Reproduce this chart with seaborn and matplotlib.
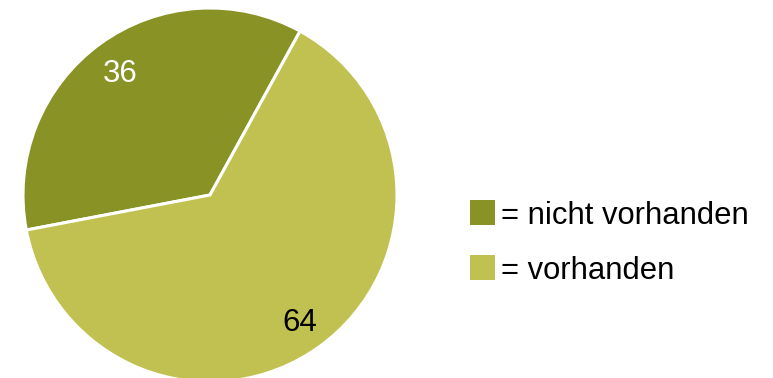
import matplotlib
matplotlib.use("Agg")
import matplotlib.pyplot as plt
from matplotlib.patches import Rectangle
import seaborn as sns

# Data
categories = ["nicht vorhanden", "vorhanden"]
values = [36, 64]
colors = ["#889225", "#C0C150"]
label_colors = ["white", "black"]

sns.set_theme(style="white")
plt.rcParams["font.family"] = ["Liberation Sans", "DejaVu Sans"]

W, H = 773, 378
fig = plt.figure(figsize=(W / 100, H / 100), dpi=100)
fig.patch.set_facecolor("white")

# pie axes: centre (210, 195) px, radius 187 px
cx, cy, r = 210, 195, 187
ax = fig.add_axes([(cx - r) / W, (H - cy - r) / H, 2 * r / W, 2 * r / H])
wedges, texts = ax.pie(
    values,
    colors=colors,
    startangle=61.2,
    counterclock=True,
    labels=[str(v) for v in values],
    labeldistance=0.82,
    wedgeprops=dict(edgecolor="white", linewidth=2.2),
    textprops=dict(fontsize=22.5),
)
for t, c in zip(texts, label_colors):
    t.set_color(c)
    t.set_ha("center")
    t.set_va("center_baseline")
ax.set_xlim(-1, 1)
ax.set_ylim(-1, 1)
ax.set_aspect("equal")
ax.axis("off")

# legend
box = 25
x0 = 470
rows_y = [212.5, 267.5]
for cat, col, yc in zip(categories, colors, rows_y):
    fig.add_artist(Rectangle((x0 / W, (H - yc - box / 2) / H), box / W, box / H,
                             transform=fig.transFigure, facecolor=col, edgecolor="none"))
    fig.text((x0 + box + 6) / W, (H - yc) / H, "= " + cat, fontsize=22.3,
             va="center_baseline", ha="left", color="black")

fig.savefig("out.png", dpi=100)
